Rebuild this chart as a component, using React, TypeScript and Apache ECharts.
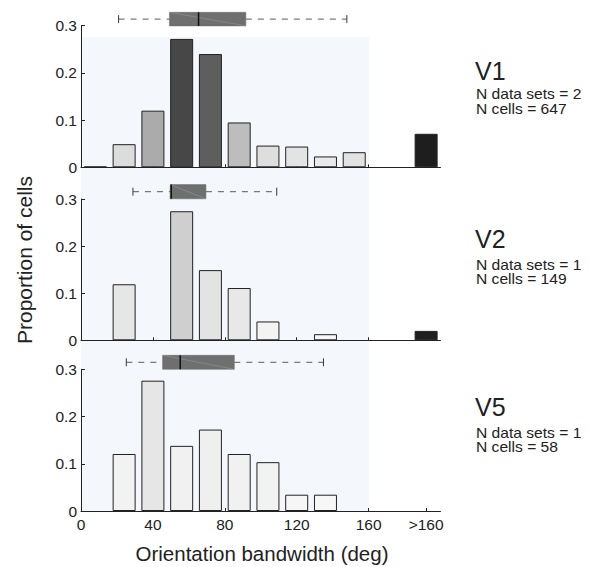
import React, { useEffect, useRef } from "react";
import * as echarts from "echarts";

const FONT = "Liberation Sans, Arial, sans-serif";

// Histogram bins (deg): 16-deg bins 0..160, plus the ">160" bin
const binCenters = [8, 24, 40, 56, 72, 88, 104, 120, 136, 152, 192];
const xTickValues = [0, 40, 80, 120, 160, 192];
const xTickLabels = ["0", "40", "80", "120", "160", ">160"];

const v1Values = [0.0015, 0.049, 0.12, 0.272, 0.24, 0.095, 0.046, 0.044, 0.023, 0.032, 0.071];
const v2Values = [0, 0.119, 0, 0.274, 0.149, 0.111, 0.04, 0, 0.013, 0, 0.02];
const v5Values = [0, 0.1207, 0.2759, 0.1379, 0.1724, 0.1207, 0.1034, 0.0345, 0.0345, 0, 0];

const v1Colors = ["#333333", "#dcdcdc", "#ababab", "#474747", "#5e5e5e", "#bdbdbd", "#dedede", "#e3e3e3", "#e9e9e9", "#e2e2e2", "#1e1e1e"];
const v2Colors = ["#ffffff", "#e6e6e6", "#ffffff", "#cfcfcf", "#e3e3e3", "#e8e8e8", "#f3f3f3", "#ffffff", "#f6f6f6", "#ffffff", "#1e1e1e"];
const v5Colors = ["#ffffff", "#f2f2f2", "#e6e6e6", "#f1f1f1", "#efefef", "#f1f1f1", "#f2f2f2", "#f6f6f6", "#f7f7f7", "#ffffff", "#ffffff"];

// Box plots: [whisker low, q1, median, q3, whisker high]
const v1Box = [20.9, 49.2, 65.4, 91.7, 147.9];
const v2Box = [28.9, 49.6, 50.2, 69.5, 108.9];
const v5Box = [25.2, 45.4, 55.2, 85.3, 134.9];

const areaNames = ["V1", "V2", "V5"];
const dataSetCounts = [2, 1, 1];
const cellCounts = [647, 149, 58];

export default function App() {
  const ref = useRef<HTMLDivElement>(null);
  useEffect(() => {
    if (!ref.current) return;
    const chart = echarts.init(ref.current, null, { renderer: "svg" });

    const gl = 81;
    const gw = 359.5;
    const histGrids = [
      { top: 25.7, height: 141.6 },
      { top: 199, height: 141.3 },
      { top: 369.3, height: 141.7 },
    ];
    const boxGrids = [
      { top: 12.3, height: 13.6 },
      { top: 184.6, height: 14.2 },
      { top: 355.3, height: 14 },
    ];
    const grids: any[] = [];
    histGrids.forEach((g) => grids.push({ left: gl, width: gw, top: g.top, height: g.height }));
    boxGrids.forEach((g) => grids.push({ left: gl, width: gw, top: g.top, height: g.height }));

    const xAxes: any[] = [];
    const yAxes: any[] = [];
    for (let i = 0; i < 3; i++) {
      xAxes.push({
        type: "value",
        gridIndex: i,
        min: 0,
        max: 200,
        axisLine: { show: true, lineStyle: { color: "#222", width: 1 } },
        axisTick: {
          show: true,
          inside: true,
          length: 3,
          customValues: xTickValues,
          lineStyle: { color: "#222" },
        },
        axisLabel: {
          show: i === 2,
          customValues: xTickValues,
          formatter: (v: number) => {
            const k = xTickValues.indexOf(v);
            return k >= 0 ? xTickLabels[k] : "";
          },
          fontSize: 15.5,
          color: "#222",
          fontFamily: FONT,
          margin: 5,
        },
        splitLine: { show: false },
      });
      yAxes.push({
        type: "value",
        gridIndex: i,
        min: 0,
        max: 0.3,
        interval: 0.1,
        axisLine: { show: true, lineStyle: { color: "#222", width: 1 } },
        axisTick: { show: true, inside: true, length: 4, lineStyle: { color: "#222" } },
        axisLabel: {
          fontSize: 15.5,
          color: "#222",
          fontFamily: FONT,
          margin: 4,
          formatter: (v: number) => (v === 0 ? "0" : v.toFixed(1)),
        },
        splitLine: { show: false },
      });
    }
    for (let i = 0; i < 3; i++) {
      xAxes.push({ type: "value", gridIndex: 3 + i, min: 0, max: 200, show: false });
      yAxes.push({ type: "value", gridIndex: 3 + i, min: 0, max: 1, show: false });
    }

    const valueSets = [v1Values, v2Values, v5Values];
    const colorSets = [v1Colors, v2Colors, v5Colors];
    const boxSets = [v1Box, v2Box, v5Box];

    const series: any[] = [];
    valueSets.forEach((vals, i) => {
      series.push({
        type: "bar",
        xAxisIndex: i,
        yAxisIndex: i,
        barWidth: 23,
        data: vals
          .map((v, k) => ({
            value: [binCenters[k], v],
            itemStyle: { color: colorSets[i][k], borderColor: "#222", borderWidth: 1 },
          }))
          .filter((d) => d.value[1] > 0),
      });
    });
    boxSets.forEach((b, i) => {
      series.push({
        type: "custom",
        xAxisIndex: 3 + i,
        yAxisIndex: 3 + i,
        clip: false,
        data: [b],
        renderItem: (params: any, api: any) => {
          const lo = api.value(0);
          const q1 = api.value(1);
          const med = api.value(2);
          const q3 = api.value(3);
          const hi = api.value(4);
          const yTop = api.coord([0, 1])[1];
          const yBot = api.coord([0, 0])[1];
          const yMid = (yTop + yBot) / 2;
          const X = (v: number) => api.coord([v, 0])[0];
          const wStyle = { stroke: "#5a5a5a", lineWidth: 1, lineDash: [6, 6] };
          const cStyle = { stroke: "#3a3a3a", lineWidth: 1 };
          return {
            type: "group",
            children: [
              { type: "line", shape: { x1: X(lo), y1: yMid, x2: X(q1), y2: yMid }, style: wStyle },
              { type: "line", shape: { x1: X(q3), y1: yMid, x2: X(hi), y2: yMid }, style: wStyle },
              { type: "line", shape: { x1: X(lo), y1: yMid - 4, x2: X(lo), y2: yMid + 4 }, style: cStyle },
              { type: "line", shape: { x1: X(hi), y1: yMid - 4, x2: X(hi), y2: yMid + 4 }, style: cStyle },
              {
                type: "rect",
                shape: { x: X(q1), y: yTop, width: X(q3) - X(q1), height: yBot - yTop },
                style: { fill: "#6f6f6f", stroke: "#666", lineWidth: 0.5 },
              },
              {
                type: "line",
                shape: { x1: X(q1), y1: yTop, x2: X(q3), y2: yBot },
                style: { stroke: "#9a9a9a", lineWidth: 0.5 },
              },
              { type: "line", shape: { x1: X(med), y1: yTop, x2: X(med), y2: yBot }, style: { stroke: "#111", lineWidth: 1.5 } },
            ],
          };
        },
      });
    });

    const graphics: any[] = [
      {
        type: "rect",
        z: -10,
        shape: { x: 81, y: 37, width: 288, height: 474 },
        style: { fill: "#f4f7fb" },
        silent: true,
      },
      {
        type: "text",
        x: 24,
        y: 260,
        rotation: Math.PI / 2,
        style: {
          text: "Proportion of cells",
          fontSize: 21,
          fontFamily: FONT,
          fill: "#222",
          align: "center",
          verticalAlign: "middle",
        },
      },
      {
        type: "text",
        x: 262,
        y: 553,
        style: {
          text: "Orientation bandwidth (deg)",
          fontSize: 20.5,
          fontFamily: FONT,
          fill: "#222",
          align: "center",
          verticalAlign: "middle",
        },
      },
    ];
    const labelY = [
      [71.3, 94.2, 108.6],
      [238.6, 264.7, 279.1],
      [407.0, 432.8, 447.2],
    ];
    areaNames.forEach((name, i) => {
      graphics.push({
        type: "text",
        x: 475,
        y: labelY[i][0],
        style: { text: name, fontSize: 25, fontFamily: FONT, fill: "#222", verticalAlign: "middle" },
      });
      graphics.push({
        type: "text",
        x: 476,
        y: labelY[i][1],
        scaleX: 1.1,
        style: {
          text: "N data sets = " + dataSetCounts[i],
          fontSize: 14.2,
          fontFamily: FONT,
          fill: "#222",
          verticalAlign: "middle",
        },
      });
      graphics.push({
        type: "text",
        x: 476,
        y: labelY[i][2],
        scaleX: 1.1,
        style: {
          text: "N cells = " + cellCounts[i],
          fontSize: 14.2,
          fontFamily: FONT,
          fill: "#222",
          verticalAlign: "middle",
        },
      });
    });

    chart.setOption({
      animation: false,
      backgroundColor: "#ffffff",
      grid: grids,
      xAxis: xAxes,
      yAxis: yAxes,
      series,
      graphic: graphics,
    });
    return () => chart.dispose();
  }, []);
  return (
    <div
      ref={ref}
      style={{ position: "fixed", left: 0, top: 0, width: 590, height: 567 }}
    />
  );
}
